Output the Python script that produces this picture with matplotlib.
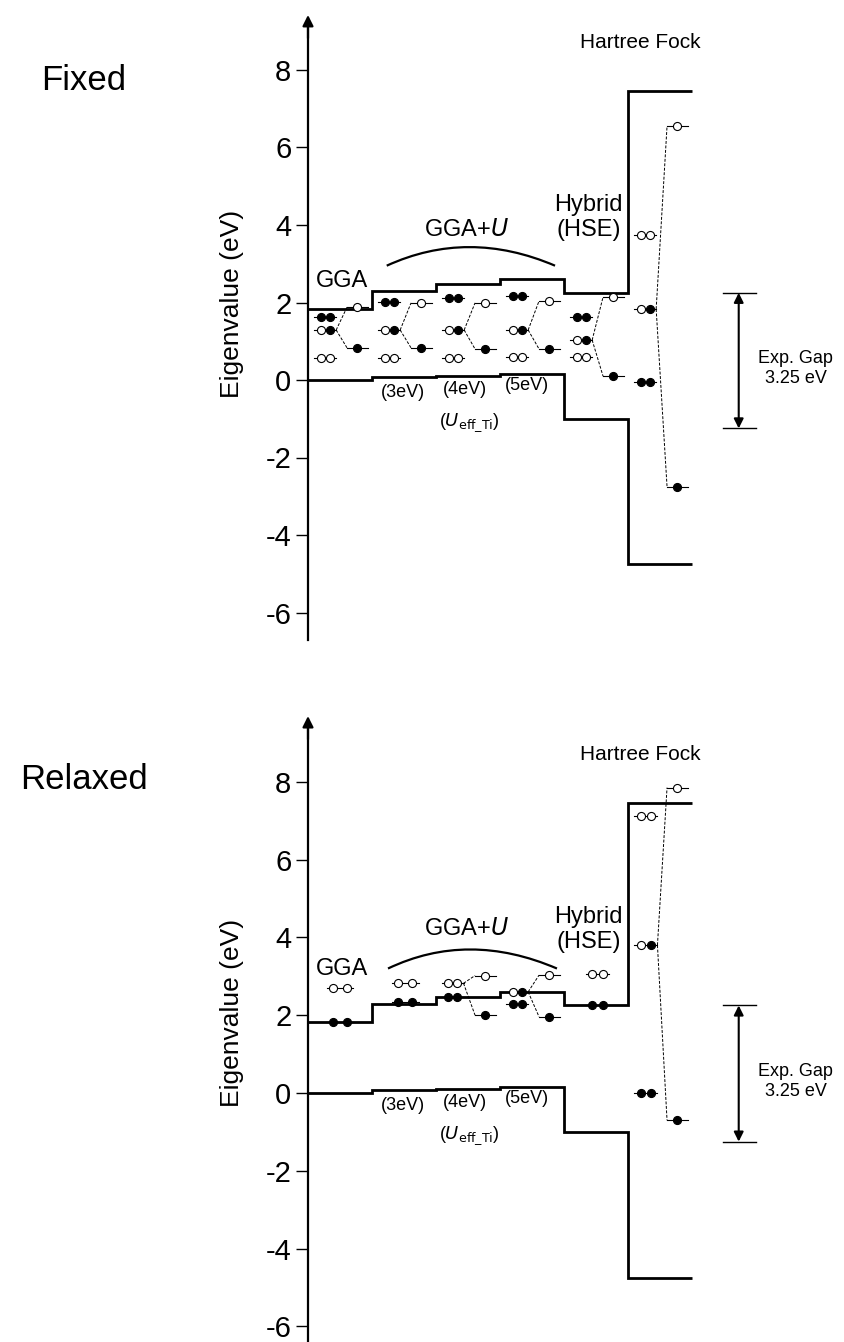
import numpy as np
import matplotlib.pyplot as plt
from matplotlib.path import Path
from matplotlib.patches import PathPatch

plt.rcParams['font.family'] = ['Liberation Sans', 'DejaVu Sans']
plt.rcParams['axes.unicode_minus'] = False

nan = np.nan

# band edges (eV): GGA, GGA+U 3/4/5 eV, HSE, Hartree Fock
cbm = [1.83, 2.30, 2.48, 2.60, 2.25, 7.45]
vbm = [0.00, 0.08, 0.10, 0.15, -1.00, -4.75]
exp_gap = [2.25, -1.25]

# fixed geometry: defect levels (ff = two filled, of = open+filled, oo = two open)
fixed_ff = [1.63, 2.01, 2.11, 2.17, 1.62, -0.05]
fixed_of = [1.29, 1.29, 1.29, 1.29, 1.03, 1.83]
fixed_oo = [0.57, 0.57, 0.57, 0.60, 0.59, 3.75]
fixed_up = [1.88, 1.99, 1.99, 2.04, 2.14, 6.55]
fixed_dn = [0.83, 0.83, 0.80, 0.80, 0.10, -2.75]

# relaxed geometry
relaxed_ff = [1.83, 2.33, 2.48, 2.30, 2.27, 0.00]
relaxed_of = [nan, nan, nan, 2.60, nan, 3.80]
relaxed_oo = [2.70, 2.82, 2.82, nan, 3.05, 7.12]
relaxed_up = [nan, nan, 3.02, 3.03, nan, 7.85]
relaxed_dn = [nan, nan, 2.00, 1.96, nan, -0.70]

yticks = [-6, -4, -2, 0, 2, 4, 6, 8]
u_labels = ['(3eV)', '(4eV)', '(5eV)']

# layout (column units, one column per method)
fixed_pair_x = [(0.20, 0.34)] * 6
relaxed_pair_x = [(0.39, 0.61), (0.41, 0.63), (0.19, 0.33),
                  (0.20, 0.34), (0.44, 0.61), (0.20, 0.36)]

W, H = 845, 1342
fig = plt.figure(figsize=(W / 100, H / 100), dpi=100)
XL = (-308 / 64, (W - 308) / 64)


def make_axes(y0_px, scale, ylo, yhi):
    bot_px = y0_px - ylo * scale
    top_px = y0_px - yhi * scale
    ax = fig.add_axes([0, 1 - bot_px / H, 1, (bot_px - top_px) / H])
    ax.set_xlim(*XL)
    ax.set_ylim(ylo, yhi)
    for s in ['top', 'right', 'bottom']:
        ax.spines[s].set_visible(False)
    ax.spines['left'].set_position(('data', 0))
    ax.spines['left'].set_linewidth(1.6)
    ax.set_xticks([])
    ax.set_yticks(yticks)
    ax.set_yticklabels([str(t) for t in yticks])
    ax.tick_params(axis='y', direction='out', length=9, width=1,
                   labelsize=21, pad=3)
    ax.patch.set_visible(False)
    return ax


def pair(ax, col, y, kinds, xs):
    if np.isnan(y):
        return
    x1, x2 = col + xs[0], col + xs[1]
    ax.plot([x1 - 0.1, x2 + 0.1], [y, y], color='k', lw=0.8, zorder=3)
    for xx, k in zip((x1, x2), kinds):
        ax.plot(xx, y, 'o', ms=5.8, mec='k', mew=0.8,
                mfc='k' if k == 'f' else 'w', zorder=4)


def split(ax, col, y0, x0, yu, yd):
    if np.isnan(yu):
        return
    for yy, fc in ((yu, 'w'), (yd, 'k')):
        ax.plot([x0, col + 0.61], [y0, yy], color='k', lw=0.7,
                ls=(0, (3, 1.6)), zorder=3)
        ax.plot([col + 0.61, col + 0.94], [yy, yy], color='k', lw=0.8, zorder=3)
        ax.plot(col + 0.77, yy, 'o', ms=5.8, mec='k', mew=0.8, mfc=fc, zorder=4)


def panel(ax, title, ff, of, oo, up, dn, pair_x, arc, txt_y):
    edges = np.arange(len(cbm) + 1)
    ax.stairs(cbm, edges, baseline=None, color='k', lw=2, zorder=2)
    ax.stairs(vbm, edges, baseline=None, color='k', lw=2, zorder=2)
    for c in range(len(cbm)):
        xs = pair_x[c]
        pair(ax, c, ff[c], 'ff', xs)
        pair(ax, c, of[c], 'of', xs)
        pair(ax, c, oo[c], 'oo', xs)
        y0 = of[c] if not np.isnan(of[c]) else oo[c]
        split(ax, c, y0, c + xs[1] + 0.1, up[c], dn[c])

    # axis arrow head
    ax.annotate('', xy=(0, arc['top']), xytext=(0, arc['top'] - 0.6),
                arrowprops=dict(arrowstyle='-|>', color='k', lw=1.6,
                                mutation_scale=16, shrinkA=0, shrinkB=0))
    ax.spines['left'].set_bounds(arc['bot'], arc['top'] - 0.3)

    # GGA+U bracket arc
    x0, x1, xp = arc['x']
    ye, yp = arc['y']
    path = Path([(x0, ye), (xp, 2 * yp - ye), (x1, ye)],
                [Path.MOVETO, Path.CURVE3, Path.CURVE3])
    ax.add_patch(PathPatch(path, fc='none', ec='k', lw=1.6))

    ax.text(-3.5, txt_y['title'], title, fontsize=25, ha='center', va='center')
    ax.text(-1.19, txt_y['ylabel'], 'Eigenvalue (eV)', fontsize=19,
            rotation=90, ha='center', va='center')
    ax.text(0.53, txt_y['gga'], 'GGA', fontsize=17, ha='center', va='center')
    ax.text(2.47, txt_y['ggau'], 'GGA+$\\it{U}$', fontsize=17,
            ha='center', va='center')
    ax.text(4.38, 4.2, 'Hybrid\n(HSE)', fontsize=17, ha='center',
            va='center', linespacing=1.15)
    ax.text(5.2, 8.7, 'Hartree Fock', fontsize=15, ha='center', va='center')
    for i, (lab, yy) in enumerate(zip(u_labels, [-0.33, -0.25, -0.15])):
        ax.text(1.48 + 0.97 * i, yy, lab, fontsize=13, ha='center', va='center')
    ax.text(2.53, -1.1, '($\\it{U}$$_{\\rm eff\\_Ti}$)', fontsize=13,
            ha='center', va='center')

    # experimental gap
    gx = 6.73
    for yy in exp_gap:
        ax.plot([6.48, 7.0], [yy, yy], color='k', lw=1)
    ax.annotate('', xy=(gx, exp_gap[0]), xytext=(gx, exp_gap[1]),
                arrowprops=dict(arrowstyle='<|-|>', color='k', lw=1.5,
                                mutation_scale=14, shrinkA=0, shrinkB=0))
    ax.text(7.62, 0.3, 'Exp. Gap\n3.25 eV', fontsize=13, ha='center',
            va='center', linespacing=1.2)


ax1 = make_axes(380, 38.75, -7.5, 9.8)
panel(ax1, 'Fixed', fixed_ff, fixed_of, fixed_oo, fixed_up, fixed_dn,
      fixed_pair_x,
      dict(top=9.42, bot=-6.7, x=(1.23, 3.86, 2.5), y=(2.95, 3.43)),
      dict(title=7.74, ylabel=1.95, gga=2.55, ggau=3.88))

ax2 = make_axes(1093, 38.9, -6.4, 9.9)
panel(ax2, 'Relaxed', relaxed_ff, relaxed_of, relaxed_oo, relaxed_up,
      relaxed_dn, relaxed_pair_x,
      dict(top=9.69, bot=-6.4, x=(1.25, 3.89, 2.5), y=(3.2, 3.69)),
      dict(title=8.07, ylabel=2.05, gga=3.2, ggau=4.21))

fig.savefig('out.png', dpi=100)
